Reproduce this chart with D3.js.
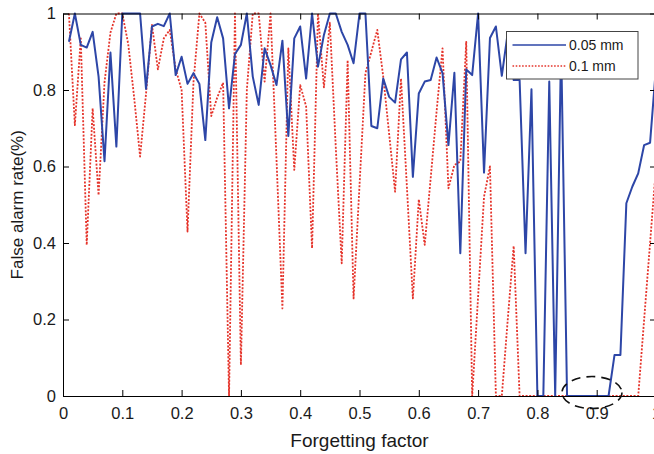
<!DOCTYPE html>
<html>
<head>
<meta charset="utf-8">
<script src="https://cdn.jsdelivr.net/npm/d3@7"></script>
<style>
  html, body { margin: 0; padding: 0; background: #fff; }
  svg { display: block; font-family: "Liberation Sans", Arial, Helvetica, sans-serif; }
</style>
</head>
<body>
<svg id="chart" width="654" height="454"></svg>
<script>
// Forgetting factor sweep, 0.01 .. 1.00
const factors = d3.range(1, 101).map(i => i / 100);

// False alarm rate for 0.05 mm
const rate005 = [
  0.926, 1.000, 0.918, 0.911, 0.952, 0.835, 0.614, 0.898, 0.652, 1.000,
  1.000, 1.000, 1.000, 0.803, 0.966, 0.973, 0.967, 1.000, 0.839, 0.887,
  0.816, 0.844, 0.816, 0.669, 0.924, 0.990, 0.935, 0.752, 0.894, 0.918,
  1.000, 0.835, 0.761, 0.909, 0.865, 0.813, 0.929, 0.680, 0.935, 0.966,
  0.830, 1.000, 0.861, 0.944, 1.000, 1.000, 0.952, 0.918, 0.870, 1.000,
  1.000, 0.706, 0.700, 0.830, 0.782, 0.767, 0.880, 0.898, 0.573, 0.791,
  0.822, 0.826, 0.885, 0.844, 0.656, 0.845, 0.373, 0.854, 0.839, 1.000,
  0.584, 0.936, 0.966, 0.837, 0.950, 0.826, 0.826, 0.373, 0.802, 0.000,
  0.000, 0.822, 0.000, 0.920, 0.000, 0.000, 0.000, 0.000, 0.000, 0.000,
  0.000, 0.000, 0.107, 0.107, 0.504, 0.547, 0.582, 0.656, 0.662, 0.860
];

// False alarm rate for 0.1 mm
const rate01 = [
  1.000, 0.708, 0.935, 0.395, 0.752, 0.525, 0.820, 0.950, 1.000, 1.000,
  0.920, 0.780, 0.626, 0.790, 0.970, 0.854, 0.935, 0.957, 0.855, 0.800,
  0.430, 0.820, 1.000, 0.976, 0.732, 0.780, 0.819, 0.000, 1.000, 0.081,
  0.800, 1.000, 1.000, 0.822, 1.000, 0.620, 0.229, 0.909, 0.591, 0.813,
  0.757, 0.386, 1.000, 0.807, 0.976, 0.650, 0.347, 0.878, 0.255, 0.550,
  0.844, 0.900, 0.957, 0.835, 0.685, 0.534, 0.830, 0.545, 0.255, 0.514,
  0.395, 0.569, 0.744, 0.909, 0.543, 0.604, 0.613, 0.926, 0.000, 0.260,
  0.521, 0.600, 0.000, 0.000, 0.200, 0.392, 0.000, 0.000, 0.000, 0.000,
  0.000, 0.000, 0.000, 0.000, 0.000, 0.000, 0.000, 0.000, 0.000, 0.000,
  0.000, 0.000, 0.000, 0.000, 0.000, 0.000, 0.000, 0.200, 0.400, 0.600
];

const seriesNames = ["0.05 mm", "0.1 mm"];
const xTicks = [0, 0.1, 0.2, 0.3, 0.4, 0.5, 0.6, 0.7, 0.8, 0.9, 1];
const xTickLabels = ["0", "0.1", "0.2", "0.3", "0.4", "0.5", "0.6", "0.7", "0.8", "0.9", "1"];
const yTicks = [0, 0.2, 0.4, 0.6, 0.8, 1];
const yTickLabels = ["0", "0.2", "0.4", "0.6", "0.8", "1"];
const xTitle = "Forgetting factor";
const yTitle = "False alarm rate(%)";

// Region of the no-alarm window marked by the dashed ellipse
const markCenter = [0.892, 0.009];

const svg = d3.select("#chart");
const margin = { left: 63, top: 13.5, right: 656, bottom: 396 };

const x = d3.scaleLinear().domain([0, 1]).range([margin.left, margin.right]);
const y = d3.scaleLinear().domain([0, 1]).range([margin.bottom, margin.top]);

const blue = "#2D46A7";
const red = "#E5342B";

// Series lines
const line = d3.line().x(d => x(d[0])).y(d => y(d[1]));

svg.append("path")
  .datum(factors.map((f, i) => [f, rate01[i]]))
  .attr("d", line)
  .attr("fill", "none")
  .attr("stroke", red)
  .attr("stroke-width", 1.8)
  .attr("stroke-dasharray", "2,1.6")
  .attr("stroke-linejoin", "round");

svg.append("path")
  .datum(factors.map((f, i) => [f, rate005[i]]))
  .attr("d", line)
  .attr("fill", "none")
  .attr("stroke", blue)
  .attr("stroke-width", 2)
  .attr("stroke-linejoin", "round");

// Axes, MATLAB-style box with inward ticks
const fmtX = (d, i) => xTickLabels[i];
const fmtY = (d, i) => yTickLabels[i];

const gx = svg.append("g")
  .attr("transform", `translate(0,${margin.bottom})`)
  .call(d3.axisBottom(x).tickValues(xTicks).tickFormat(fmtX)
    .tickSizeInner(-6).tickSizeOuter(0).tickPadding(11));
const gxTop = svg.append("g")
  .attr("transform", `translate(0,${margin.top})`)
  .call(d3.axisTop(x).tickValues(xTicks).tickFormat("")
    .tickSizeInner(-6).tickSizeOuter(0));
const gy = svg.append("g")
  .attr("transform", `translate(${margin.left},0)`)
  .call(d3.axisLeft(y).tickValues(yTicks).tickFormat(fmtY)
    .tickSizeInner(-6).tickSizeOuter(0).tickPadding(7));
const gyRight = svg.append("g")
  .attr("transform", `translate(${margin.right},0)`)
  .call(d3.axisRight(y).tickValues(yTicks).tickFormat("")
    .tickSizeInner(-6).tickSizeOuter(0));

[gx, gxTop, gy, gyRight].forEach(g => {
  g.selectAll("path.domain").attr("stroke", "#000").attr("stroke-width", 1);
  g.selectAll(".tick line").attr("stroke", "#000").attr("stroke-width", 1);
  g.selectAll(".tick text")
    .attr("fill", "#1a1a1a")
    .style("font-size", "16.5px")
    .style("font-family", "'Liberation Sans', Arial, sans-serif");
});

// Axis titles
svg.append("text")
  .attr("x", (margin.left + margin.right) / 2)
  .attr("y", 447)
  .attr("text-anchor", "middle")
  .attr("fill", "#1a1a1a")
  .style("font-size", "19px")
  .text(xTitle);

svg.append("text")
  .attr("transform", `translate(23,${(margin.top + margin.bottom) / 2}) rotate(-90)`)
  .attr("text-anchor", "middle")
  .attr("fill", "#1a1a1a")
  .style("font-size", "17px")
  .text(yTitle);

// Dashed ellipse around the zero-alarm stretch
svg.append("ellipse")
  .attr("cx", x(markCenter[0]))
  .attr("cy", y(markCenter[1]))
  .attr("rx", 30)
  .attr("ry", 16)
  .attr("fill", "none")
  .attr("stroke", "#111")
  .attr("stroke-width", 1.6)
  .attr("stroke-dasharray", "9,6");

// Legend
const legend = svg.append("g").attr("transform", "translate(506.5,31.5)");
legend.append("rect")
  .attr("width", 131.5)
  .attr("height", 47.5)
  .attr("fill", "#fff")
  .attr("stroke", "#444")
  .attr("stroke-width", 1);

const legendItems = [
  { name: seriesNames[0], color: blue, dash: null, width: 1.6 },
  { name: seriesNames[1], color: red, dash: "1.6,1.6", width: 1.3 }
];
legendItems.forEach((item, i) => {
  const yy = 13.5 + i * 21;
  const ln = legend.append("line")
    .attr("x1", 6).attr("x2", 59.5)
    .attr("y1", yy).attr("y2", yy)
    .attr("stroke", item.color)
    .attr("stroke-width", item.width);
  if (item.dash) ln.attr("stroke-dasharray", item.dash);
  legend.append("text")
    .attr("x", 62.5)
    .attr("y", yy)
    .attr("dy", "0.35em")
    .attr("fill", "#1a1a1a")
    .style("font-size", "14px")
    .text(item.name);
});
</script>
</body>
</html>
